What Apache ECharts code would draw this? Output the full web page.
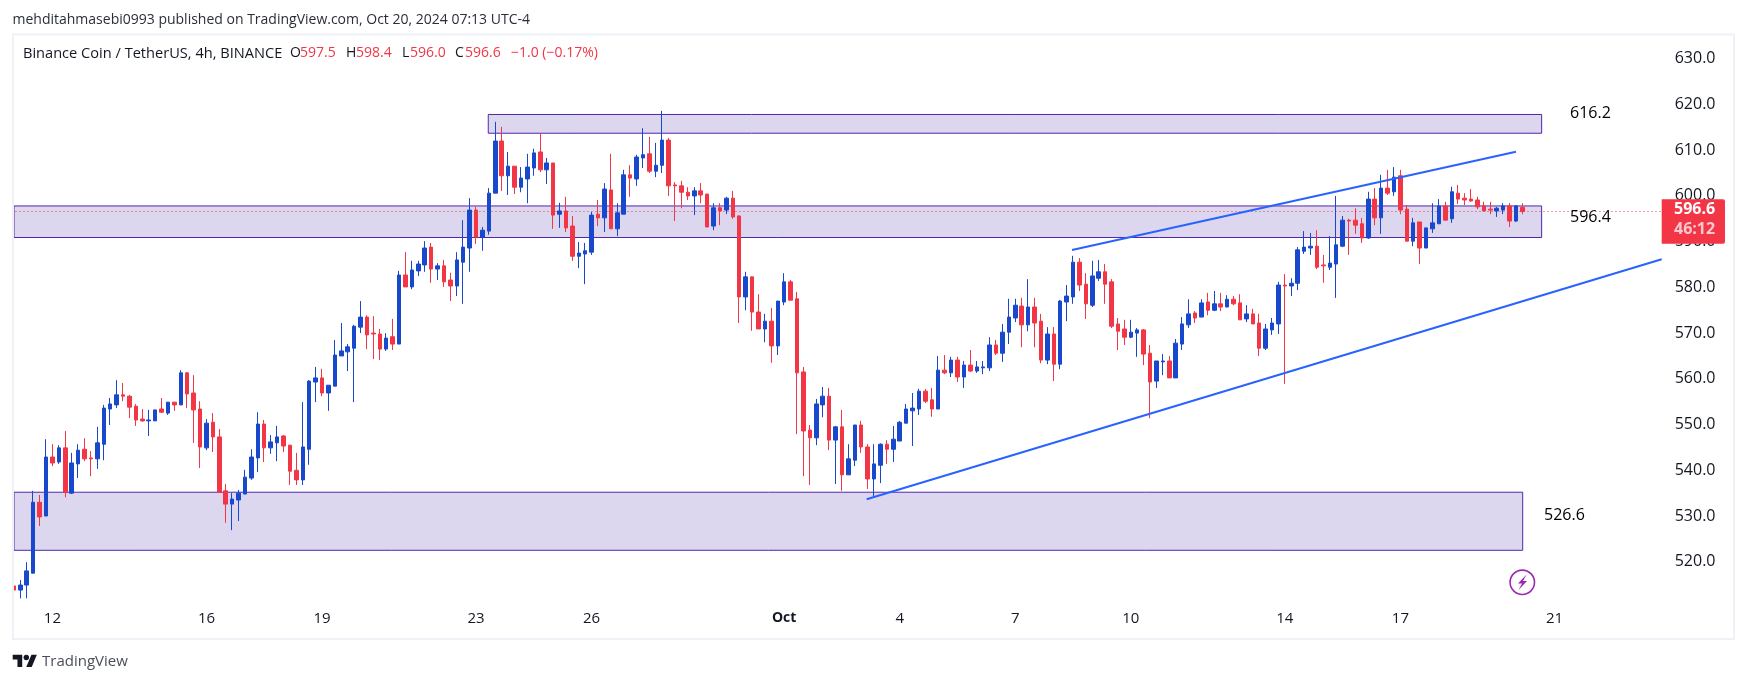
<!DOCTYPE html>
<html>
<head>
<meta charset="utf-8">
<style>html,body{margin:0;padding:0;background:#fff}#c{width:1747px;height:683px}</style>
<script src="https://cdn.jsdelivr.net/npm/echarts@6/dist/echarts.min.js"></script>
</head>
<body>
<div id="c"></div>
<script>
const opens = [514.7,513.8,514.9,517.5,533.0,530.0,542.9,541.8,544.9,535.0,
541.4,544.6,542.7,542.5,545.7,553.4,554.3,556.5,556.2,554.0,
551.2,550.8,550.8,553.4,552.5,554.9,554.3,561.3,556.9,553.4,
544.9,550.5,547.3,535.5,532.6,533.5,534.8,538.3,542.7,550.1,
544.9,546.0,547.5,545.5,540.0,537.9,544.6,559.3,560.2,556.9,
558.4,565.0,565.9,566.7,571.3,573.5,570.0,569.8,566.5,569.2,
567.6,582.7,580.1,583.6,584.9,588.8,584.0,584.7,581.6,580.3,
585.5,588.6,596.9,591.0,592.3,600.6,612.0,604.4,606.5,601.9,
603.7,606.1,609.6,605.7,607.2,596.0,596.7,593.4,586.8,587.3,
587.7,596.0,595.2,601.3,592.8,596.0,604.6,603.7,608.3,609.2,
605.4,606.7,612.2,602.4,602.2,600.8,600.0,601.1,600.4,593.4,
597.4,596.9,599.5,595.6,577.9,582.3,574.6,570.9,572.6,567.2,
576.8,581.2,577.5,561.5,548.8,547.1,554.3,556.2,546.6,549.5,
539.0,542.2,549.9,545.1,538.1,541.1,545.7,544.6,546.4,550.3,
553.0,553.4,557.3,555.4,553.4,561.9,561.3,564.1,560.4,563.0,
561.7,562.4,562.4,567.4,565.6,570.2,573.3,575.9,571.8,575.7,
572.6,564.1,569.8,563.2,576.8,577.9,585.5,580.7,576.1,582.0,
583.4,581.2,572.0,570.9,569.1,570.0,570.7,565.6,559.5,563.7,
563.9,560.2,567.6,571.8,574.4,573.5,576.8,575.0,576.4,575.7,
577.4,576.6,573.1,574.2,572.2,566.7,570.7,572.0,580.5,580.3,
580.9,587.9,588.6,589.0,584.9,584.4,585.1,589.0,594.7,594.7,
593.9,590.8,599.3,595.2,601.7,600.9,604.4,597.1,590.1,594.3,
588.6,592.8,593.9,597.8,595.0,600.6,599.5,599.3,599.1,597.8,
597.1,596.7,596.9,597.8,594.5,597.5];
const highs = [514.9,516.0,519.9,535.5,534.6,546.8,545.7,545.5,548.6,543.8,
545.7,547.0,544.2,549.5,554.3,555.8,559.7,559.1,556.5,554.5,
553.4,553.2,553.2,555.8,554.9,554.9,561.9,561.5,560.8,555.1,
551.2,552.5,549.0,537.0,535.0,535.7,540.1,544.6,552.7,551.0,
547.7,549.7,547.7,545.5,543.8,554.9,559.7,562.6,562.2,558.6,
568.5,572.2,567.6,571.8,577.0,573.9,573.7,570.9,570.0,573.1,
583.6,587.7,585.8,585.8,590.1,589.7,585.3,586.0,583.2,587.7,
594.7,599.5,597.6,593.2,601.7,616.2,615.1,609.6,606.5,606.3,
609.2,610.3,613.7,608.3,607.2,598.5,599.8,595.6,589.9,589.7,
596.5,599.1,602.8,609.2,598.4,605.7,606.7,609.0,614.8,612.9,
611.6,618.6,612.7,603.0,603.3,601.9,601.9,602.8,600.4,598.4,
598.4,599.8,601.1,595.8,583.4,582.3,578.5,574.2,575.5,577.0,
583.1,581.6,579.0,562.6,549.9,555.6,558.2,558.0,549.7,553.2,
545.7,549.9,550.8,545.7,545.7,545.9,546.6,549.7,550.8,554.5,
556.9,557.8,557.8,558.0,565.0,565.2,564.8,564.8,563.9,566.3,
563.9,563.9,569.1,568.5,572.0,577.5,577.5,577.7,581.8,577.7,
574.2,571.3,571.3,577.2,580.5,586.9,586.4,583.1,585.8,586.0,
585.1,581.8,573.3,572.9,572.9,571.1,570.9,567.4,563.9,565.4,
565.0,568.7,573.5,577.4,574.8,577.4,578.8,579.2,578.8,578.3,
578.1,578.5,576.1,575.3,574.2,572.0,573.3,581.2,582.9,582.0,
588.8,592.3,591.9,592.5,587.1,591.2,600.0,595.6,595.0,597.3,
595.2,600.9,601.7,604.6,605.7,606.3,605.7,598.0,595.2,594.3,
593.0,598.4,599.3,598.7,602.0,602.4,600.6,601.5,599.8,598.7,
598.7,597.6,598.4,598.4,598.0,598.4];
const lows = [512.0,512.0,512.0,517.5,527.8,530.0,540.9,541.4,534.1,534.8,
538.3,542.0,538.7,540.3,542.2,549.9,553.6,555.1,551.4,549.7,
550.6,547.5,550.8,552.5,552.1,553.0,554.3,553.6,546.0,540.5,
544.4,544.0,535.2,528.5,526.9,528.9,534.8,537.9,539.6,541.8,
543.6,542.0,544.0,536.8,536.8,536.8,541.2,554.9,556.2,553.0,
558.4,565.0,561.7,554.9,570.0,566.5,564.3,564.1,566.1,566.3,
567.6,580.1,579.6,582.5,583.4,581.0,581.6,580.1,577.0,578.1,
576.4,583.4,589.5,588.0,591.5,600.6,601.1,600.2,600.4,600.8,
598.4,604.4,605.2,602.6,592.8,593.0,592.1,585.8,584.2,580.7,
587.1,593.4,592.1,592.8,591.2,596.0,599.8,602.2,606.1,605.0,
604.1,605.0,600.0,594.5,597.3,599.1,595.8,598.4,593.2,592.5,
593.6,596.0,595.0,572.2,575.0,570.5,570.9,568.0,563.5,565.2,
576.1,577.2,547.9,538.7,536.8,545.5,551.6,544.4,537.0,535.5,
539.0,540.9,543.8,535.9,534.2,537.2,541.4,541.8,546.4,550.3,
545.3,552.1,554.7,551.7,553.4,561.0,560.4,559.3,558.0,561.5,
561.3,561.0,561.7,565.2,563.7,567.6,572.4,566.9,570.4,566.9,
563.4,563.2,559.5,562.1,572.6,576.4,579.2,573.1,575.7,581.4,
576.4,571.1,566.3,567.4,568.9,564.8,563.0,551.4,558.0,560.8,
560.2,560.2,566.3,571.1,572.2,573.5,573.9,574.8,574.8,575.7,
576.1,572.9,572.4,572.0,565.0,566.3,569.6,569.8,558.9,578.1,
579.4,587.3,587.1,584.0,581.0,583.8,577.7,588.8,587.1,591.7,
589.7,590.6,593.6,591.7,600.2,600.0,596.0,590.1,589.0,585.1,
588.6,591.9,593.9,594.7,594.1,598.2,598.0,598.7,597.1,596.7,
596.0,595.4,596.0,593.2,594.3,596.0];
const closes = [513.8,514.9,518.0,533.0,529.8,542.9,541.6,544.9,535.2,541.6,
544.4,542.5,542.5,546.0,553.6,554.5,556.5,556.2,553.8,551.0,
550.8,551.0,553.2,552.7,554.9,554.3,561.3,556.7,553.2,545.1,
550.3,547.3,535.2,532.6,533.7,535.0,538.5,542.9,550.1,544.9,
546.2,547.3,545.3,539.8,537.9,545.1,559.5,560.2,556.9,558.6,
565.2,566.1,567.0,571.5,573.5,569.6,569.8,566.5,568.9,567.6,
582.7,580.1,583.8,585.1,588.6,584.0,584.7,581.2,580.3,586.0,
588.8,596.9,591.0,592.5,600.6,612.0,604.4,606.5,601.9,603.9,
606.3,609.4,605.7,607.2,595.8,596.7,593.0,586.8,587.5,588.0,
595.8,595.2,601.5,592.8,596.3,604.6,603.9,608.5,609.0,605.4,
606.7,612.2,602.2,602.2,600.8,600.0,601.1,600.2,593.2,597.4,
596.7,599.5,595.4,577.9,582.3,574.6,570.9,572.6,567.2,577.0,
581.2,577.2,561.3,548.6,547.1,554.5,556.2,546.6,549.5,539.0,
542.5,549.9,545.1,538.1,541.4,545.7,544.6,546.8,550.5,553.4,
553.6,557.3,555.1,553.4,561.9,561.3,564.1,560.4,563.0,561.7,
562.6,562.6,567.4,565.6,570.2,573.5,576.1,571.8,575.7,572.2,
564.1,569.8,563.2,577.0,578.1,585.5,580.5,576.4,582.5,583.4,
580.7,571.5,570.4,569.1,570.2,570.7,565.4,559.3,563.9,563.9,
560.2,567.8,572.0,574.2,573.3,576.6,575.0,576.4,575.7,577.4,
576.4,572.9,574.2,572.0,566.7,570.9,572.2,580.5,580.3,580.9,
588.2,588.8,589.0,584.4,584.7,585.3,589.3,594.7,594.5,593.6,
590.8,599.3,595.2,601.7,600.6,604.1,596.9,590.1,594.1,588.6,
593.0,594.1,597.8,594.7,600.9,599.3,599.1,598.9,597.6,596.7,
596.9,597.3,597.8,594.5,597.8,596.6];

const dateTickIndex = [6,30,48,72,90,120,138,156,174,198,216,240];
const dateTickLabels = ['12','16','19','23','26','Oct','4','7','10','14','17','21'];
const priceTicks = [520,530,540,550,560,570,580,590,600,610,620,630];
const lastPrice = 596.6;
const supplyZone = [73.9,617.8,238.0,613.7];
const middleZone = [0.016,597.8,238.0,590.9];
const demandZone = [0.016,535.2,235.05,522.5];
const lowerTrend = [[132.85,533.65],[256.7,586.13]];
const upperTrend = [[164.84,588.17],[234.0,609.66]];

const RED = '#f23645', BLUE = '#1848cc', INK = '#131722', FONT = '"Open Sans",sans-serif';
const candleData = opens.map((o,i)=>[i,o,closes[i],lows[i],highs[i]]);
const zoneItem = z => [{xAxis:z[0],yAxis:z[1]},{xAxis:z[2],yAxis:z[3]}];
const trend = d => ({type:'line',data:d,showSymbol:false,symbol:'none',silent:true,z:4,animation:false,
  lineStyle:{color:'#2962ff',width:2}});
const txt = (x,y,t,extra) => ({type:'text',x:x,y:y,z:20,silent:true,
  style:Object.assign({text:t,font:'14px '+FONT,fill:INK},extra||{})});
const HDR = 46;

const chart = echarts.init(document.getElementById('c'),null,{renderer:'canvas'});
chart.setOption({
  animation:false,
  backgroundColor:'#fff',
  grid:{left:7.481,width:1654.22,top:12.97,height:594.5,containLabel:false},
  xAxis:{type:'value',min:-1,max:256.706,
    axisLine:{show:false},axisTick:{show:false},splitLine:{show:false},
    axisLabel:{customValues:dateTickIndex,margin:4,fontFamily:FONT,fontSize:15,color:INK,
      formatter:v=>{const l=dateTickLabels[dateTickIndex.indexOf(v)];return l==='Oct'?'{b|Oct}':l;},
      rich:{b:{fontWeight:'bold',fontFamily:FONT,fontSize:14,color:INK}}}},
  yAxis:{type:'value',min:510,max:640,position:'right',
    axisLine:{show:false},axisTick:{show:false},splitLine:{show:false},
    axisLabel:{customValues:priceTicks,margin:13,padding:[2,0,0,0],fontFamily:FONT,fontSize:16,color:INK,
      formatter:v=>v.toFixed(1)}},
  series:[
    {type:'line',data:[],z:1,silent:true,
      markArea:{silent:true,z:1,itemStyle:{color:'#dcd7ee',borderColor:'#5227ab',borderWidth:1},
        data:[zoneItem(supplyZone),zoneItem(middleZone),zoneItem(demandZone)]}},
    {type:'candlestick',data:candleData,encode:{x:0,y:[1,2,3,4]},barWidth:4,z:3,silent:true,
      itemStyle:{color:BLUE,color0:RED,borderColor:BLUE,borderColor0:RED,borderWidth:1},
      markLine:{silent:true,symbol:'none',z:2,label:{show:false},
        lineStyle:{color:RED,type:[1,3],width:1},
        data:[{yAxis:lastPrice}]}},
    trend(lowerTrend),
    trend(upperTrend)
  ],
  graphic:[
    {type:'rect',z:15,silent:true,shape:{x:0,y:30,width:13,height:612},style:{fill:'#fff'}},
    {type:'rect',z:16,silent:true,shape:{x:13,y:34.5,width:1721,height:604.5},style:{fill:'none',stroke:'#f0f1f7',lineWidth:2}},
    txt(12.5,13,'mehditahmasebi0993 published on TradingView.com, Oct 20, 2024 07:13 UTC-4',{fill:'#2a2e39'}),
    txt(23,HDR,'Binance Coin / TetherUS, 4h, BINANCE',{font:'14.6px '+FONT}),
    txt(290,HDR,'O'),txt(300,HDR,'597.5',{fill:RED}),
    txt(346,HDR,'H'),txt(356,HDR,'598.4',{fill:RED}),
    txt(402,HDR,'L'),txt(410,HDR,'596.0',{fill:RED}),
    txt(455,HDR,'C'),txt(465,HDR,'596.6',{fill:RED}),
    txt(511,HDR,'\u22121.0 (\u22120.17%)',{fill:RED}),
    txt(1570,105,'616.2',{font:'16px '+FONT,fill:'#000'}),
    txt(1570,209,'596.4',{font:'16px '+FONT,fill:'#000'}),
    txt(1544,507,'526.6',{font:'16px '+FONT,fill:'#000'}),
    {type:'rect',z:17,silent:true,shape:{x:1661.7,y:199.3,width:63.3,height:44.4,r:[0,2,2,0]},style:{fill:RED}},
    txt(1674,201,'596.6',{font:'bold 16px '+FONT,fill:'#fff'}),
    txt(1674,221,'46:12',{font:'bold 16px '+FONT,fill:'#fbc9ce'}),
    {type:'circle',z:18,silent:true,shape:{cx:1522.3,cy:582.3,r:12.2},style:{fill:'#fff',stroke:'#9c27b0',lineWidth:1.6}},
    {type:'polygon',z:18,silent:true,shape:{points:[[1526.5,574.5],[1518,583.5],[1522,583.5],[1518.5,590],[1527,581],[1523,581]]},style:{fill:'#9c27b0'}},
    {type:'polygon',z:18,silent:true,shape:{points:[[22.22,667],[17.46,667],[17.46,659.5],[12.7,659.5],[12.7,654.8],[22.22,654.8]]},style:{fill:INK}},
    {type:'polygon',z:18,silent:true,shape:{points:[[31.74,667],[26.3,667],[31.4,654.8],[36.84,654.8]]},style:{fill:INK}},
    {type:'circle',z:18,silent:true,shape:{cx:26.3,cy:657.5,r:2.72},style:{fill:INK}},
    txt(42,654,'TradingView',{font:'15px '+FONT,fill:'#4a4e58'})
  ]
});
</script>
</body>
</html>
